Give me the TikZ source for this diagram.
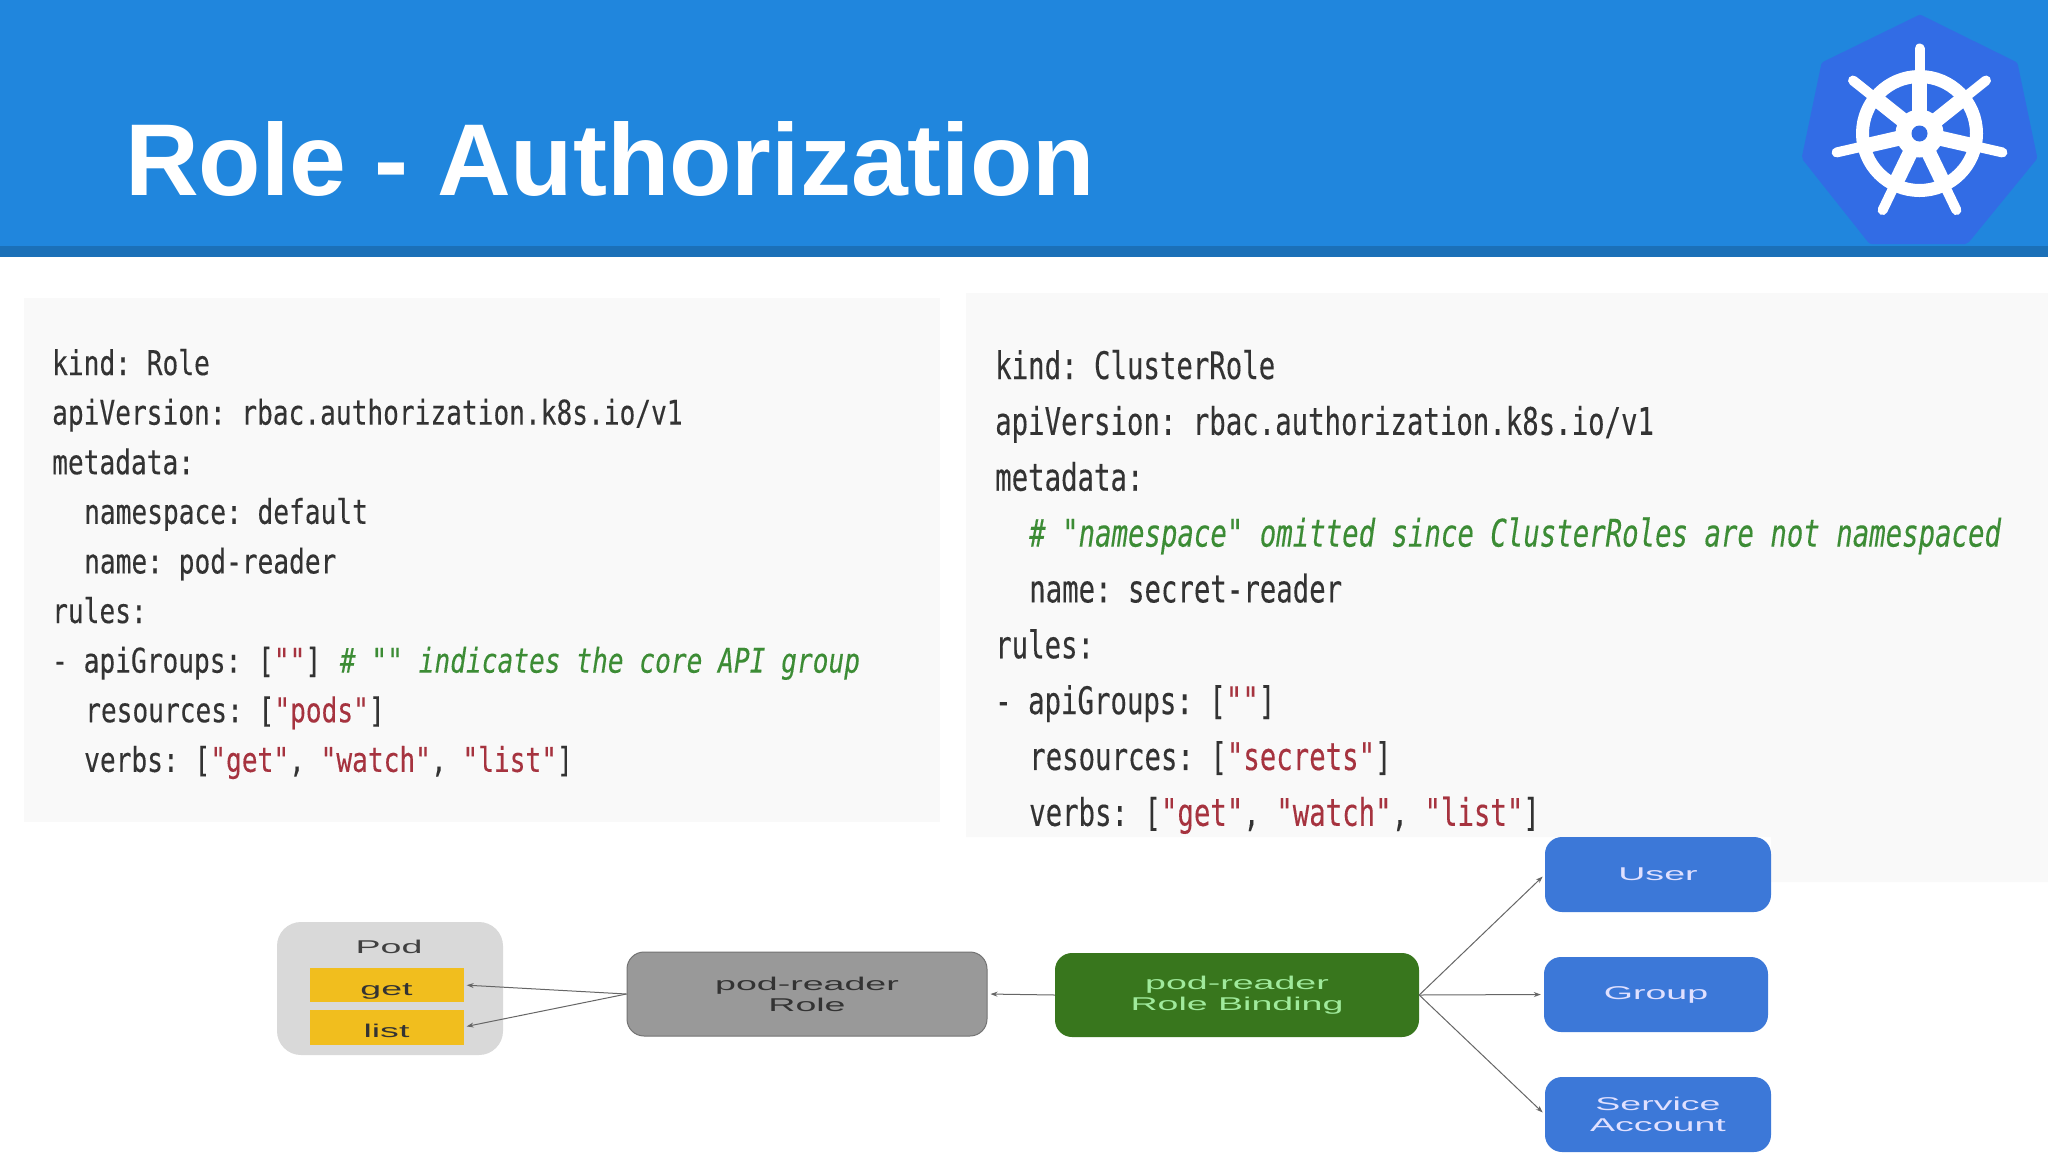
\documentclass[tikz,border=0pt]{standalone}
\usepackage{fontspec}
\usetikzlibrary{arrows.meta}
\setmainfont{Liberation Sans}
\newfontfamily\wideface[FakeStretch=2.03]{Liberation Sans}
\newfontfamily\codeL[FakeStretch=0.77,FakeBold=0.25]{DejaVu Sans Mono}
\newfontfamily\codeR[FakeStretch=0.72,FakeBold=0.25]{DejaVu Sans Mono}
\definecolor{headblue}{HTML}{2086DD}
\definecolor{headdark}{HTML}{1B70B8}
\definecolor{k8sblue}{HTML}{326CE5}
\definecolor{panelgray}{HTML}{F9F9F9}
\definecolor{podgray}{HTML}{D9D9D9}
\definecolor{verbyellow}{HTML}{F1BE1E}
\definecolor{rolegray}{HTML}{999999}
\definecolor{bindgreen}{HTML}{38761D}
\definecolor{subjblue}{HTML}{3C78D8}
\definecolor{codeink}{HTML}{333333}
\definecolor{codered}{HTML}{A6333F}
\definecolor{codegreen}{HTML}{3C8C35}
\newcommand{\rd}[1]{\textcolor{codered}{#1}}
\newcommand{\gr}[1]{\textcolor{codegreen}{\itshape #1}}
\tikzset{
  boxbase/.style={anchor=center,inner sep=0pt,rounded corners=17pt,align=center,
    font=\wideface\fontsize{18.5}{21}\selectfont},
  podbox/.style={boxbase,fill=podgray,minimum width=226pt,minimum height=133pt,rounded corners=24pt},
  verbbox/.style={anchor=center,inner sep=0pt,fill=verbyellow,minimum width=154pt,
    text height=20pt,text depth=0pt,text=black!80,font=\wideface\fontsize{18.5}{21}\selectfont},
  rolebox/.style={boxbase,fill=rolegray,draw=gray!90!black,line width=1pt,text=black!80,minimum width=360pt,minimum height=84pt},
  bindbox/.style={boxbase,fill=bindgreen,text=green!30!white!85!bindgreen,minimum width=364pt,minimum height=84pt},
  subjbox/.style={boxbase,fill=subjblue,text=blue!12!white,minimum height=75pt},
  codeleft/.style={anchor=base west,inner sep=0pt,text=codeink,font=\codeL\frenchspacing\fontsize{34}{40}\selectfont},
  coderight/.style={anchor=base west,inner sep=0pt,text=codeink,font=\codeR\frenchspacing\fontsize{38}{44}\selectfont},
  conn/.style={draw=black!60,line width=1pt,-{Stealth[length=7pt,width=5pt]},shorten >=3pt},
  spoke/.style={draw=white,line width=10pt,line cap=round},
  innerspoke/.style={draw=white,line width=15pt},
}
\begin{document}
\begin{tikzpicture}[x=1pt,y=-1pt]
\useasboundingbox (0,0) rectangle (2048,1152);
\clip (0,0) rectangle (2048,1152);
\fill[white] (0,0) rectangle (2048,1152);
% header
\fill[headblue] (0,0) rectangle (2048,246);
\fill[headdark] (0,246) rectangle (2048,257);
\node[anchor=base west,inner sep=0pt,text=white,font=\bfseries\fontsize{102.1}{110}\selectfont] (title) at (125,195) {Role - Authorization};
% logo
\fill[k8sblue,draw=k8sblue,line width=10pt,line join=round] (1920,20) -- (2013,66) -- (2032,157) -- (1965,239) -- (1872,239) -- (1807,157) -- (1826,66) -- cycle;
\coordinate (hub) at (1919.5,133.5);
\draw[draw=white,line width=13pt] (hub) circle (57);
\foreach \a in {90,38.57,141.43,-12.86,192.86,-64.29,244.29}{
  \draw[spoke] (hub) -- ++(\a:-85);
  \draw[innerspoke] (hub) -- ++(\a:-58);
}
\fill[white] (hub) circle (24);
\fill[k8sblue] (hub) circle (8);
% panels
\fill[panelgray] (24,298) rectangle (940,822);
\fill[panelgray] (966,293) -- (2048,293) -- (2048,882) -- (1771,882) -- (1771,837) -- (966,837) -- cycle;
% left code
\node[codeleft] (l1) at (52,375) {kind: Role};
\node[codeleft] (l2) at (52,424.6) {apiVersion: rbac.authorization.k8s.io/v1};
\node[codeleft] (l3) at (52,474.2) {metadata:};
\node[codeleft] (l4) at (84,523.8) {namespace: default};
\node[codeleft] (l5) at (84,573.4) {name: pod-reader};
\node[codeleft] (l6) at (52,623) {rules:};
\node[codeleft] (l7) at (52,672.6) {- apiGroups: \hspace{1pt}[\rd{""}]\hspace{3pt} \gr{\# "" indicates the core API group}};
\node[codeleft] (l8) at (85,722.2) {resources: [\rd{"pods"}]};
\node[codeleft] (l9) at (84,771.8) {verbs: [\rd{"get"}, \rd{"watch"}, \rd{"list"}]};
% right code
\node[coderight] (r1) at (995,379) {kind: ClusterRole};
\node[coderight] (r2) at (995,434.85) {apiVersion: rbac.authorization.k8s.io/v1};
\node[coderight] (r3) at (995,490.7) {metadata:};
\node[coderight] (r4) at (1029,546.55) {\gr{\# "namespace" omitted since ClusterRoles are not namespaced}};
\node[coderight] (r5) at (1029,602.4) {name: secret-reader};
\node[coderight] (r6) at (995,658.25) {rules:};
\node[coderight] (r7) at (995,714.1) {- apiGroups: [\rd{""}]};
\node[coderight] (r8) at (1029,769.95) {resources: [\rd{"secrets"}]};
\node[coderight] (r9) at (1029,825.8) {verbs: [\rd{"get"}, \rd{"watch"}, \rd{"list"}]};
% diagram
\node[podbox] (pod) at (390,988.5) {};
\node[anchor=center,inner sep=0pt,text=black!75,font=\wideface\fontsize{18.5}{21}\selectfont] (podlabel) at (389,947) {Pod};
\node[verbbox,minimum height=34pt] (get) at (386.5,985) {get};
\node[verbbox,minimum height=35pt] (list) at (386.5,1027) {list};
\node[rolebox] (role) at (807,994) {pod-reader\\Role};
\node[bindbox] (bind) at (1237,995) {pod-reader\\Role Binding};
\node[subjbox,minimum width=226pt] (user) at (1658,874.5) {User};
\node[subjbox,minimum width=224pt] (group) at (1656,994.5) {Group};
\node[subjbox,minimum width=226pt] (sa) at (1658,1114.5) {Service\\Account};
\draw[conn] (role.west) -- (get.east);
\draw[conn] (role.west) -- (list.east);
\draw[conn] (bind.west) -- (role.east);
\draw[conn] (bind.east) -- (user.west);
\draw[conn] (bind.east) -- (group.west);
\draw[conn] (bind.east) -- (sa.west);
\end{tikzpicture}
\end{document}
